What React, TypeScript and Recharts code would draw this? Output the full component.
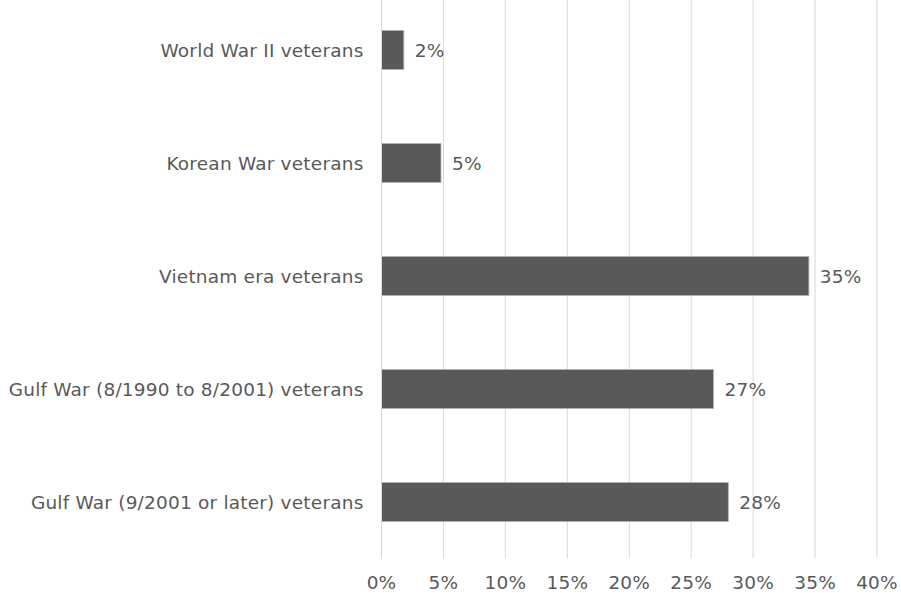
import { BarChart, Bar, XAxis, YAxis, CartesianGrid, LabelList } from "recharts";

const categories = [
    "World War II veterans",
    "Korean War veterans",
    "Vietnam era veterans",
    "Gulf War (8/1990 to 8/2001) veterans",
    "Gulf War (9/2001 or later) veterans",
];
const shares = [1.8, 4.8, 34.5, 26.8, 28.0];
const xTicks = [0, 5, 10, 15, 20, 25, 30, 35, 40];

const data = categories.map((name, i) => ({ name, share: shares[i] }));

const font = "'DejaVu Sans', Verdana, sans-serif";
const textColor = "#595959";
const gridColor = "#d9d9d9";
const fontSize = 18.5;

export default function App() {
    return (
        <div style={{ position: "absolute", left: 0, top: 0, width: 901, height: 593, overflow: "hidden", background: "#fff" }}>
            <div style={{ position: "absolute", left: 0, top: -20 }}>
                <BarChart
                    width={901}
                    height={613}
                    data={data}
                    layout="vertical"
                    margin={{ top: 13.5, right: 24, left: 0, bottom: 4.5 }}
                    style={{ fontFamily: font, letterSpacing: 0.2 }}
                >
                    <CartesianGrid horizontal={false} stroke={gridColor} strokeWidth={1} />
                    <XAxis
                        type="number"
                        domain={[0, 40]}
                        ticks={xTicks}
                        tickFormatter={(v: number) => `${v}%`}
                        axisLine={false}
                        tickLine={false}
                        tickMargin={11}
                        height={30}
                        tick={{ fill: textColor, fontSize }}
                    />
                    <YAxis
                        type="category"
                        dataKey="name"
                        width={381.5}
                        axisLine={{ stroke: gridColor }}
                        tickLine={false}
                        tickSize={0}
                        tickMargin={18}
                        interval={0}
                        tick={{ fill: textColor, fontSize }}
                    />
                    <Bar dataKey="share" fill="#58595b" stroke="#b0b0b0" strokeWidth={0.75} barSize={39} isAnimationActive={false}>
                        <LabelList
                            dataKey="share"
                            position="right"
                            offset={11}
                            fill={textColor}
                            fontSize={fontSize}
                            formatter={(v: number) => `${Math.round(v)}%`}
                        />
                    </Bar>
                </BarChart>
            </div>
        </div>
    );
}
